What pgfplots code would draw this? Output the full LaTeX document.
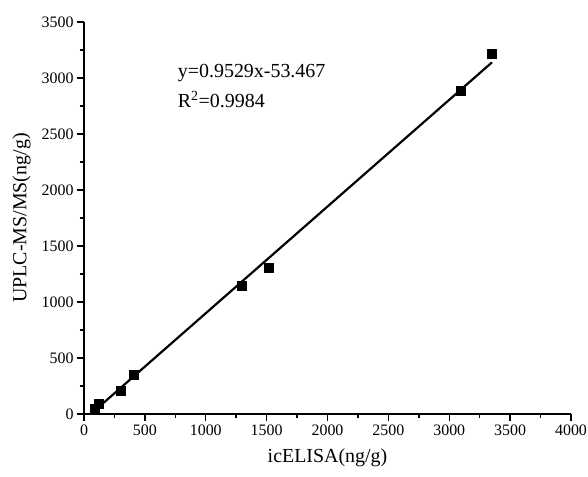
\documentclass[border=0pt]{standalone}
\usepackage{fontspec}
\setmainfont{Liberation Serif}
\usepackage{pgfplots}
\pgfplotsset{compat=1.18}

\begin{document}
\begin{tikzpicture}
  \begin{axis}[
    scale only axis,
    width=487bp, height=392bp,
    xmin=0, xmax=4000, ymin=0, ymax=3500,
    axis lines*=left,
    axis line style={line width=1.5pt},
    xtick distance=500, ytick distance=500,
    minor tick num=1,
    tick align=outside,
    major tick length=7bp, minor tick length=4bp,
    tick style={line width=1.4pt, black},
    /pgf/number format/assume math mode=true,
    /pgf/number format/1000 sep={},
    ticklabel style={font=\fontsize{16}{16}\selectfont},
    label style={font=\fontsize{20}{20}\selectfont},
    xlabel={icELISA(ng/g)},
    ylabel={UPLC-MS/MS(ng/g)},
    xlabel style={yshift=-7bp},
    ylabel style={yshift=4bp},
    clip=false]
  % fitted line y=0.9529x-53.467
  \addplot[black, line width=2.2pt] coordinates {
    (56, 0)
    (3351, 3139.7)
  };
  \addplot[only marks, mark=square*, mark size=4.5bp, black] coordinates {
    (90,   45)
    (123,  89)
    (304,  205)
    (411,  348)
    (1295, 1146)
    (1514, 1310)
    (3097, 2884)
    (3351, 3214)
  };
  \node[anchor=west, font=\fontsize{20}{20}\selectfont, align=left, inner sep=0pt]
    at (axis cs:770,3040) {y=0.9529x-53.467};
  \node[anchor=west, font=\fontsize{20}{20}\selectfont, align=left, inner sep=0pt]
    at (axis cs:770,2810) {R\textsuperscript{2}=0.9984};
  \end{axis}
  \pgfresetboundingbox
  \path ([shift={(-84bp,-63bp)}]current axis.south west)
    rectangle ([shift={(17bp,22bp)}]current axis.north east);
\end{tikzpicture}
\end{document}
